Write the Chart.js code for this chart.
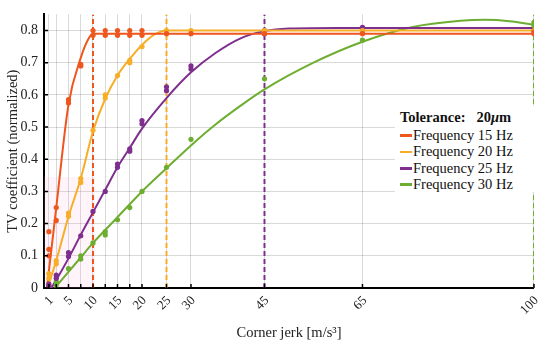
<!DOCTYPE html>
<html><head><meta charset="utf-8">
<script src="https://cdn.jsdelivr.net/npm/chart.js@4.4.1/dist/chart.umd.min.js"></script>
<style>
html,body{margin:0;padding:0;background:#fff;}
#wrap{position:relative;width:550px;height:348px;}
canvas{display:block;}
#legend{position:absolute;left:395px;top:106px;width:150px;height:86px;background:#fff;font-family:"Liberation Serif","Times New Roman",serif;font-size:14.5px;color:#111;box-sizing:border-box;padding:2px 0 0 5px;}
#legend .t{font-weight:bold;line-height:18px;height:19px;white-space:pre;}
#legend .r{line-height:16.3px;height:16.3px;white-space:nowrap;}
#legend .r span{display:inline-block;width:12px;height:2.5px;vertical-align:middle;margin-right:1px;position:relative;top:-1px;}
</style></head>
<body><div id="wrap"><canvas id="c" width="550" height="348"></canvas><div id="legend"></div></div>
<script>
// ---- data ----
const xTicks = [1, 2.5, 5, 7.5, 10, 12.5, 15, 17.5, 20, 25, 30, 45, 65, 100];
const xLabelTicks = [1, 5, 10, 15, 20, 25, 30, 45, 65, 100];
const yTicks = [0, 0.1, 0.2, 0.3, 0.4, 0.5, 0.6, 0.7, 0.8];
const seriesNames = ['Frequency 15 Hz', 'Frequency 20 Hz', 'Frequency 25 Hz', 'Frequency 30 Hz'];
const legendTitle = 'Tolerance:   20';
const cutoffX = [10, 25, 45, 100];

// measured points
const pts15X = [1,1,1,2.5,2.5,5,5,7.5,7.5,10,10,12.5,12.5,15,15,17.5,17.5,20,20,25,30,45,65,100,100];
const pts15Y = [0.10,0.12,0.175,0.21,0.25,0.575,0.585,0.69,0.695,0.785,0.80,0.785,0.80,0.785,0.80,0.785,0.80,0.785,0.80,0.79,0.79,0.79,0.79,0.79,0.795];
const pts20X = [1,1,2.5,2.5,5,5,7.5,7.5,10,12.5,12.5,15,17.5,17.5,20,25,30,45,65,100];
const pts20Y = [0.03,0.045,0.075,0.085,0.223,0.233,0.328,0.34,0.49,0.59,0.60,0.66,0.70,0.707,0.75,0.80,0.80,0.80,0.80,0.80];
const pts25X = [1,1,2.5,2.5,5,5,7.5,10,12.5,15,15,17.5,17.5,20,20,25,25,30,30,45,45,65,65,100];
const pts25Y = [0.005,0.012,0.03,0.04,0.098,0.11,0.162,0.238,0.30,0.375,0.385,0.425,0.432,0.51,0.52,0.613,0.625,0.68,0.69,0.79,0.80,0.80,0.81,0.80];
const pts30X = [1,2.5,2.5,5,7.5,7.5,10,12.5,12.5,15,17.5,20,25,30,45,65,100,100];
const pts30Y = [0.003,0.01,0.02,0.06,0.09,0.10,0.14,0.165,0.175,0.212,0.25,0.30,0.375,0.462,0.65,0.77,0.815,0.825];

// fitted curves
const fit15X = [0.6, 2.5, 5, 7.5, 9, 10, 100];
const fit15Y = [0, 0.25, 0.57, 0.715, 0.772, 0.79, 0.79];
const fit20X = [0.7, 2.5, 5, 7.5, 10, 12.5, 15, 17.5, 20, 22.5, 25, 100];
const fit20Y = [0, 0.085, 0.222, 0.34, 0.487, 0.588, 0.66, 0.712, 0.755, 0.787, 0.80, 0.80];
const fit25X = [1.5, 2.5, 5, 7.5, 10, 12.5, 15, 17.5, 20, 25, 30, 35, 40, 45, 50, 60, 100];
const fit25Y = [0, 0.025, 0.092, 0.165, 0.235, 0.305, 0.375, 0.435, 0.495, 0.59, 0.67, 0.73, 0.775, 0.798, 0.806, 0.808, 0.808];
const fit30X = [2.2, 5, 7.5, 10, 12.5, 15, 20, 25, 30, 35, 40, 45, 55, 65, 75, 85, 90, 95, 100];
const fit30Y = [0, 0.05, 0.095, 0.14, 0.18, 0.22, 0.30, 0.372, 0.443, 0.508, 0.565, 0.617, 0.70, 0.765, 0.81, 0.83, 0.833, 0.829, 0.818];

const colors = ['#EE561E', '#F7AE27', '#7E2F8E', '#6DAD30'];
const serif = '"Liberation Serif","Times New Roman",serif';

const ptsX = [pts15X, pts20X, pts25X, pts30X], ptsY = [pts15Y, pts20Y, pts25Y, pts30Y];
const fitX = [fit15X, fit20X, fit25X, fit30X], fitY = [fit15Y, fit20Y, fit25Y, fit30Y];
const zip = (xs, ys) => xs.map((x, i) => ({x, y: ys[i]}));

const datasets = [];
seriesNames.forEach((n, i) => {
  datasets.push({label: n + ' cutoff', data: [{x: cutoffX[i], y: 0}, {x: cutoffX[i], y: 0.85}], showLine: true,
    borderColor: colors[i], borderWidth: 2, borderDash: [5, 3], pointRadius: 0, order: 3});
});
seriesNames.forEach((n, i) => {
  datasets.push({label: n, data: zip(fitX[i], fitY[i]), showLine: true, borderColor: colors[i], borderWidth: 2,
    pointRadius: 0, cubicInterpolationMode: 'monotone', order: 2});
});
seriesNames.forEach((n, i) => {
  datasets.push({label: n + ' data', data: zip(ptsX[i], ptsY[i]), showLine: false, pointRadius: 2.6,
    pointBackgroundColor: colors[i], pointBorderWidth: 0, borderColor: colors[i], order: 1});
});

const extras = {
  id: 'extras',
  beforeDatasetsDraw(chart) {
    const {ctx, scales: {x, y}} = chart;
    ctx.save();
    ctx.fillStyle = 'rgba(255,170,205,0.13)';
    const x0 = x.getPixelForValue(0), x1 = x.getPixelForValue(10.4);
    const y0 = y.getPixelForValue(0), y1 = y.getPixelForValue(0.345);
    ctx.fillRect(x0, y1, x1 - x0, y0 - y1);
    ctx.restore();
  },
  afterDraw(chart) {
    const {ctx, scales: {x, y}} = chart;
    ctx.save();
    ctx.strokeStyle = '#000';
    ctx.lineWidth = 1.5;
    const yb = y.getPixelForValue(0), xl = x.getPixelForValue(0);
    ctx.beginPath();
    xTicks.forEach(v => { const p = x.getPixelForValue(v); ctx.moveTo(p, yb); ctx.lineTo(p, yb - 4); });
    yTicks.forEach(v => { const p = y.getPixelForValue(v); ctx.moveTo(xl, p); ctx.lineTo(xl + 4, p); });
    ctx.stroke();
    ctx.restore();
  }
};

new Chart(document.getElementById('c'), {
  type: 'scatter',
  data: {datasets},
  plugins: [extras],
  options: {
    responsive: false, animation: false,
    layout: {padding: {top: 10, right: 12, left: 0, bottom: 0}},
    plugins: {legend: {display: false}, tooltip: {enabled: false}},
    scales: {
      x: {
        type: 'linear', min: 0, max: 100,
        afterBuildTicks: s => { s.ticks = xTicks.map(v => ({value: v})); },
        afterFit: s => { s.height = 60; },
        grid: {color: 'rgba(0,0,0,0.15)', lineWidth: 1, drawTicks: false},
        border: {display: true, color: '#000', width: 2},
        ticks: {
          autoSkip: false, minRotation: 45, maxRotation: 45, padding: 5,
          color: '#222', font: {family: serif, size: 13},
          callback: v => xLabelTicks.includes(v) ? String(v) : '',
          labelOffset: c => { const l = String(c.tick ? c.tick.value : '').length; return l === 1 ? -2 : (l === 2 ? 0 : 2.5); }
        },
        title: {display: true, text: 'Corner jerk [m/s³]', color: '#222', font: {family: serif, size: 14.5}, padding: {top: 0, bottom: 6}}
      },
      y: {
        min: 0, max: 0.85,
        afterBuildTicks: s => { s.ticks = yTicks.map(v => ({value: v})); },
        afterFit: s => { s.width = 44; },
        grid: {color: 'rgba(0,0,0,0.15)', lineWidth: 1, drawTicks: false},
        border: {display: true, color: '#000', width: 2},
        ticks: {padding: 6, color: '#222', font: {family: serif, size: 14}, callback: v => v === 0 ? '0' : v.toFixed(1)},
        title: {display: true, text: 'TV coefficient (normalized)', color: '#222', font: {family: serif, size: 14.5}, padding: {top: 4, bottom: 2}}
      }
    }
  }
});

// HTML legend
const lg = document.getElementById('legend');
let h = '<div class="t">' + legendTitle + '<i>μ</i>m</div>';
seriesNames.forEach((n, i) => { h += '<div class="r"><span style="background:' + colors[i] + '"></span>' + n + '</div>'; });
lg.innerHTML = h;
</script>
</body></html>
